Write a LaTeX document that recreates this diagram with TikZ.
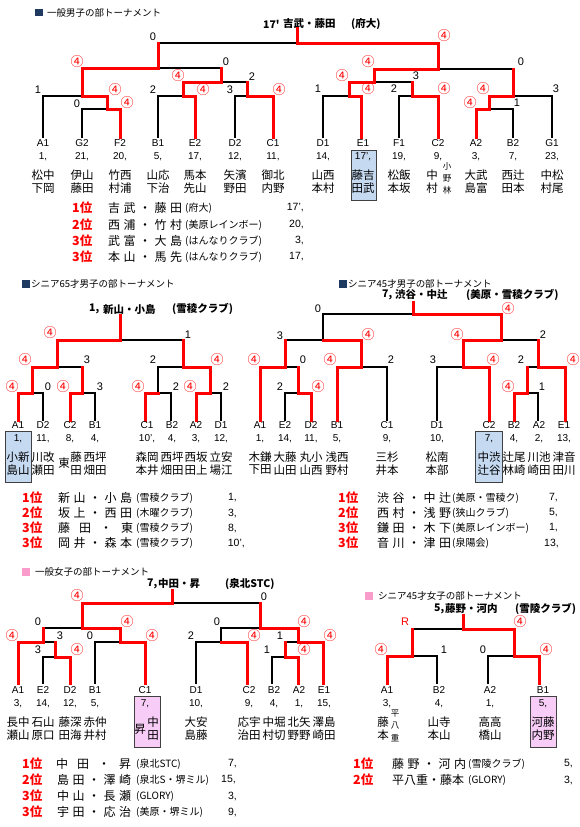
\documentclass[tikz,border=0pt]{standalone}
\usepackage{fontspec}
\setmainfont{Liberation Sans}
\newfontfamily\jp{Noto Sans CJK JP}
\definecolor{hlb}{HTML}{C5D9F1}
\definecolor{hlp}{HTML}{F7CDF7}
\definecolor{navy}{HTML}{1F3A60}
\definecolor{pnk}{HTML}{F99CCB}
\newcommand\hs{\hspace{3.5pt}}
\newcommand\hw{\hspace{9pt}}
\newcounter{nd}
\newcommand\F[2]{\stepcounter{nd}\node[w4] (f\arabic{nd}) at (#1,#2) {④};}
\newcommand\Sc[3]{\stepcounter{nd}\node[sc] (s\arabic{nd}) at (#1,#2) {#3};}
% leaf: name, x, ylab, label, num, row1, row2
\newcommand\Lf[7]{%
  \node[lb] (#1l) at (#2,#3) {#4};
  \node[lb] (#1n) at (#2,#3+14) {#5};
  \node[nm] (#1a) at (#2,#3+32) {#6};
  \node[nm] (#1b) at (#2,#3+45) {#7};}
% rank row: name, y, xr, rank, xn, names, xo, org
\newcommand\Rk[8]{%
  \node[rk] (#1r) at (#3,#2) {#4};
  \node[rn] (#1n) at (#5,#2) {#6};
  \node[og] (#1o) at (#7,#2) {#8};}
\newcommand\Rv[4]{\node[rv] (#1v) at (#2,#3) {#4};}
\begin{document}
\begin{tikzpicture}[x=1pt,y=-1pt,
 rl/.style={draw=red,line width=3pt,line cap=rect},
 bl/.style={draw=black,line width=1.9pt,line cap=rect},
 w4/.style={text=red,font=\jp\fontsize{13}{13}\selectfont,inner sep=0pt},
 sc/.style={font=\fontsize{11}{11}\selectfont,inner sep=0pt},
 lb/.style={font=\fontsize{10}{10}\selectfont,inner sep=0pt},
 nm/.style={font=\jp\fontsize{11.5}{11.5}\selectfont,inner sep=0pt},
 sm/.style={font=\jp\fontsize{8.5}{8.5}\selectfont,inner sep=0pt},
 rk/.style={text=red,font=\jp\bfseries\fontsize{12.5}{12.5}\selectfont,anchor=west,inner sep=0pt},
 rn/.style={font=\jp\fontsize{12}{12}\selectfont,anchor=west,inner sep=0pt},
 og/.style={font=\jp\fontsize{10}{10}\selectfont,anchor=west,inner sep=0pt},
 rv/.style={font=\fontsize{10.5}{10.5}\selectfont,inner sep=0pt,anchor=east},
 hd/.style={font=\jp\fontsize{9.5}{9.5}\selectfont,anchor=west,inner sep=0pt},
 ch/.style={font=\jp\bfseries\fontsize{10.5}{10.5}\selectfont,anchor=west,inner sep=0pt},
 sq/.style={minimum size=7.5pt,inner sep=0pt},
 hbx/.style={fill=hlb,draw=black!75,line width=0.8pt},
 pbx/.style={fill=hlp,draw=black!75,line width=0.8pt},
]
\fill[white] (0,0) rectangle (580,827);
\useasboundingbox (0,0) rectangle (580,827);

%================ Section 1 =================
\node[sq,fill=navy] (h1s) at (39,12.5) {};
\node[hd] (h1) at (47,12.5) {一般男子の部トーナメント};
\node[ch] (c1a) at (263,24) {17'};
\node[ch] (c1b) at (283,24) {吉武・藤田};
\node[ch] (c1c) at (351,24) {(府大)};
% black
\draw[bl] (158,43)--(297,43);
\draw[bl] (158,68)--(221,68);
\draw[bl] (43,137)--(43,96)--(82,96);
\draw[bl] (82,137)--(82,109)--(107,109);
\draw[bl] (158,137)--(158,96)--(183,96);
\draw[bl] (221,82)--(247,82);
\draw[bl] (235,137)--(235,96)--(247,96);
\draw[bl] (438,69)--(513,69);
\draw[bl] (374,82)--(412,82);
\draw[bl] (323,137)--(323,96)--(349,96);
\draw[bl] (399,137)--(399,96)--(412,96);
\draw[bl] (513,96)--(552,96)--(552,137);
\draw[bl] (489,109)--(513,109)--(513,137);
% red
\draw[rl] (297,28)--(297,43)--(438,43)--(438,69)--(374,69)--(374,82)--(349,82)--(349,96)--(361,96)--(361,137);
\draw[rl] (158,43)--(158,68)--(82,68)--(82,96)--(107,96)--(107,109)--(120,109)--(120,137);
\draw[rl] (221,68)--(221,82)--(183,82)--(183,96)--(195,96)--(195,137);
\draw[rl] (247,82)--(247,96)--(273,96)--(273,137);
\draw[rl] (412,82)--(412,96)--(438,96)--(438,137);
\draw[rl] (513,69)--(513,96)--(489,96)--(489,109)--(476,109)--(476,137);
% scores
\Sc{153}{37}{0} \F{444}{36}
\Sc{226}{62}{0} \F{77}{62} \Sc{521}{62}{0} \F{368}{62}
\F{178}{76} \Sc{252}{77}{2} \F{342}{76} \Sc{416}{76}{3}
\Sc{38}{90}{1} \F{115}{90} \Sc{153}{90}{2} \F{203}{90} \Sc{230}{90}{3} \F{279}{90}
\Sc{318}{89}{1} \F{368}{89} \Sc{394}{89}{2} \F{444}{89} \F{483}{89} \Sc{556}{89}{3}
\Sc{77}{104}{0} \F{127}{103} \F{470}{103} \Sc{517}{103}{1}
% leaves
\draw[hbx] (351,150) rectangle (376,200);
\Lf{aA1}{43}{143}{A1}{1,}{松中}{下岡}
\Lf{aG2}{82}{143}{G2}{21,}{伊山}{藤田}
\Lf{aF2}{120}{143}{F2}{20,}{竹西}{村浦}
\Lf{aB1}{158}{143}{B1}{5,}{山応}{下治}
\Lf{aE2}{195}{143}{E2}{17,}{馬本}{先山}
\Lf{aD2}{235}{143}{D2}{12,}{矢濱}{野田}
\Lf{aC1}{273}{143}{C1}{11,}{御北}{内野}
\Lf{aD1}{323}{143}{D1}{14,}{山西}{本村}
\Lf{aE1}{363}{143}{E1}{17',}{藤吉}{田武}
\Lf{aF1}{399}{143}{F1}{19,}{松飯}{本坂}
\Lf{aC2}{438}{143}{C2}{9,}{}{}
\node[nm] (aC2x) at (432,175) {中};
\node[nm] (aC2y) at (432,188) {村};
\node[sm] (aC2p) at (447,166) {小};
\node[sm] (aC2q) at (447,178) {野};
\node[sm] (aC2r) at (447,190) {林};
\Lf{aA2}{476}{143}{A2}{3,}{大武}{島富}
\Lf{aB2}{513}{143}{B2}{7,}{西辻}{田本}
\Lf{aG1}{552}{143}{G1}{23,}{中松}{村尾}
% ranks
\Rk{a1}{208}{72}{1位}{108}{吉\hs 武\hs・\hs 藤\hs 田}{185}{(府大)} \Rv{a1}{304}{208}{17',}
\Rk{a2}{225}{72}{2位}{108}{西\hs 浦\hs・\hs 竹\hs 村}{185}{(美原レインボー)} \Rv{a2}{304}{225}{20,}
\Rk{a3}{241}{72}{3位}{108}{武\hs 富\hs・\hs 大\hs 島}{185}{(はんなりクラブ)} \Rv{a3}{304}{241}{3,}
\Rk{a4}{257}{72}{3位}{108}{本\hs 山\hs・\hs 馬\hs 先}{185}{(はんなりクラブ)} \Rv{a4}{304}{257}{17,}

%================ Section 2 =================
\node[sq,fill=navy] (h2s) at (26,284) {};
\node[hd] (h2) at (31,284) {シニア65才男子の部トーナメント};
\node[ch] (c2a) at (89,309) {1,};
\node[ch] (c2b) at (103,309) {新山・小島};
\node[ch] (c2c) at (172,309) {(雪稜クラブ)};
\draw[bl] (120,340)--(183,340);
\draw[bl] (57,367)--(82,367);
\draw[bl] (43,420)--(43,393)--(32,393);
\draw[bl] (95,420)--(95,393)--(82,393);
\draw[bl] (158,393)--(158,367)--(183,367);
\draw[bl] (171,420)--(171,393)--(158,393);
\draw[bl] (221,420)--(221,393)--(210,393);
\draw[rl] (120,315)--(120,340)--(57,340)--(57,367)--(32,367)--(32,393)--(18,393)--(18,420);
\draw[rl] (183,340)--(183,367)--(210,367)--(210,393)--(196,393)--(196,420);
\draw[rl] (82,367)--(82,393)--(70,393)--(70,420);
\draw[rl] (158,393)--(145,393)--(145,420);
\F{50}{333} \Sc{188}{335}{1}
\F{25}{360} \Sc{87}{360}{3} \Sc{153}{360}{2} \F{217}{360}
\F{12}{387} \Sc{48}{387}{0} \F{63}{387} \Sc{100}{387}{3}
\F{138}{387} \Sc{176}{387}{2} \F{190}{387} \Sc{226}{387}{2}
\draw[hbx] (5,431) rectangle (31,482);
\Lf{bA1}{18}{425}{A1}{1,}{小新}{島山}
\Lf{bD2}{43}{425}{D2}{11,}{川改}{瀬田}
\Lf{bC2}{70}{425}{C2}{8,}{}{}
\node[nm] (bC2x) at (64,463) {東};
\node[nm] (bC2y) at (76,457) {藤};
\node[nm] (bC2z) at (76,470) {田};
\Lf{bB1}{95}{425}{B1}{4,}{西坪}{畑田}
\Lf{bC1}{147}{425}{C1}{10',}{森岡}{本井}
\Lf{bB2}{172}{425}{B2}{4,}{西坪}{畑田}
\Lf{bA2}{196}{425}{A2}{3,}{西坂}{田上}
\Lf{bD1}{221}{425}{D1}{12,}{立安}{場江}
\Rk{b1}{498}{22}{1位}{58}{新\hs 山\hs・\hs 小\hs 島}{136}{(雪稜クラブ)} \Rv{b1}{237}{498}{1,}
\Rk{b2}{513}{22}{2位}{58}{坂\hs 上\hs・\hs 西\hs 田}{136}{(木曜クラブ)} \Rv{b2}{237}{513}{3,}
\Rk{b3}{528}{22}{3位}{58}{藤\hw 田\hw・\hw 東}{136}{(雪稜クラブ)} \Rv{b3}{237}{528}{8,}
\Rk{b4}{543}{22}{3位}{58}{岡\hs 井\hs・\hs 森\hs 本}{136}{(雪稜クラブ)} \Rv{b4}{245}{543}{10',}

%================ Section 3 =================
\node[sq,fill=navy] (h3s) at (343,284) {};
\node[hd] (h3) at (348,284) {シニア45才男子の部トーナメント};
\node[ch] (c3a) at (382,295) {7,};
\node[ch] (c3b) at (395,295) {渋谷・中辻};
\node[ch] (c3c) at (466,295) {(美原・雪稜クラブ)};
\draw[bl] (323,314)--(413,314);
\draw[bl] (323,314)--(323,340)--(285,340);
\draw[bl] (285,367)--(298,367);
\draw[bl] (285,420)--(285,393)--(298,393);
\draw[bl] (361,367)--(387,367)--(387,420);
\draw[bl] (501,340)--(538,340);
\draw[bl] (437,420)--(437,367)--(463,367);
\draw[bl] (527,367)--(538,367);
\draw[bl] (527,393)--(538,393)--(538,420);
\draw[rl] (413,302)--(413,314)--(501,314)--(501,340)--(463,340)--(463,367)--(489,367)--(489,420);
\draw[rl] (323,340)--(361,340)--(361,367)--(337,367)--(337,420);
\draw[rl] (285,340)--(285,367)--(260,367)--(260,420);
\draw[rl] (298,367)--(298,393)--(311,393)--(311,420);
\draw[rl] (538,340)--(538,367)--(565,367)--(565,420);
\draw[rl] (527,367)--(527,393)--(514,393)--(514,420);
\Sc{318}{309}{0} \F{508}{309}
\Sc{280}{336}{3} \F{368}{335} \F{457}{335} \Sc{543}{335}{2}
\F{254}{360} \Sc{303}{360}{0} \F{330}{360} \Sc{391}{360}{2}
\Sc{433}{360}{3} \F{493}{360} \Sc{521}{360}{2} \F{573}{360}
\Sc{280}{387}{2} \F{318}{387} \F{508}{387} \Sc{542}{387}{1}
\draw[hbx] (475,431) rectangle (502,482);
\Lf{cA1}{260}{425}{A1}{1,}{木鎌}{下田}
\Lf{cE2}{285}{425}{E2}{14,}{大藤}{山田}
\Lf{cD2}{311}{425}{D2}{11,}{丸小}{山西}
\Lf{cB1}{337}{425}{B1}{5,}{浅西}{野村}
\Lf{cC1}{387}{425}{C1}{9,}{三杉}{井本}
\Lf{cD1}{437}{425}{D1}{10,}{松南}{本部}
\Lf{cC2}{489}{425}{C2}{7,}{中渋}{辻谷}
\Lf{cB2}{514}{425}{B2}{4,}{辻尾}{林崎}
\Lf{cA2}{539}{425}{A2}{2,}{川池}{崎田}
\Lf{cE1}{564}{425}{E1}{13,}{津音}{田川}
\Rk{c1}{498}{338}{1位}{377}{渋\hs 谷\hs・\hs 中\hs 辻}{452}{(美原・雪稜ク)} \Rv{c1}{558}{498}{7,}
\Rk{c2}{513}{338}{2位}{377}{西\hs 村\hs・\hs 浅\hs 野}{452}{(狭山クラブ)} \Rv{c2}{558}{513}{5,}
\Rk{c3}{528}{338}{3位}{377}{鎌\hs 田\hs・\hs 木\hs 下}{452}{(美原レインボー)} \Rv{c3}{558}{528}{1,}
\Rk{c4}{543}{338}{3位}{377}{音\hs 川\hs・\hs 津\hs 田}{452}{(泉陽会)} \Rv{c4}{559}{543}{13,}

%================ Section 4 =================
\node[sq,fill=pnk] (h4s) at (26,572) {};
\node[hd] (h4) at (35,572) {一般女子の部トーナメント};
\node[ch] (c4a) at (147,584) {7,};
\node[ch] (c4b) at (158,584) {中田・昇};
\node[ch] (c4c) at (225,584) {(泉北STC)};
\draw[bl] (172,603)--(260,603);
\draw[bl] (43,628)--(82,628);
\draw[bl] (43,642)--(55,642);
\draw[bl] (43,683)--(43,657)--(55,657);
\draw[bl] (95,683)--(95,642)--(120,642);
\draw[bl] (221,628)--(260,628);
\draw[bl] (221,628)--(221,642)--(196,642)--(196,683);
\draw[bl] (285,642)--(298,642);
\draw[bl] (272,683)--(272,657)--(285,657);
\draw[rl] (172,590)--(172,603)--(82,603)--(82,628)--(120,628)--(120,642)--(145,642)--(145,683);
\draw[rl] (43,628)--(43,642)--(18,642)--(18,683);
\draw[rl] (55,642)--(55,657)--(70,657)--(70,683);
\draw[rl] (260,603)--(260,628)--(298,628)--(298,642)--(323,642)--(323,683);
\draw[rl] (221,642)--(247,642)--(247,683);
\draw[rl] (285,642)--(285,657)--(298,657)--(298,683);
\F{77}{596} \Sc{264}{597}{0}
\Sc{38}{622}{0} \F{127}{622} \Sc{217}{622}{0} \F{304}{622}
\F{12}{636} \Sc{60}{636}{3} \Sc{90}{636}{0} \F{152}{636}
\Sc{191}{636}{2} \F{254}{636} \Sc{280}{636}{1} \F{330}{636}
\Sc{38}{650}{3} \F{77}{650} \Sc{267}{650}{1} \F{304}{650}
\draw[pbx] (134,696) rectangle (160,747);
\Lf{dA1}{18}{690}{A1}{3,}{長中}{瀬山}
\Lf{dE2}{43}{690}{E2}{14,}{石山}{原口}
\Lf{dD2}{70}{690}{D2}{12,}{藤深}{田海}
\Lf{dB1}{95}{690}{B1}{5,}{赤仲}{井村}
\Lf{dC1}{145}{690}{C1}{7,}{}{}
\node[nm] (dC1x) at (153,722) {中};
\node[nm] (dC1y) at (153,735) {田};
\node[nm] (dC1z) at (140,729) {昇};
\Lf{dD1}{196}{690}{D1}{10,}{大安}{島藤}
\Lf{dC2}{249}{690}{C2}{9,}{応宇}{治田}
\Lf{dB2}{274}{690}{B2}{4,}{中堀}{村切}
\Lf{dA2}{299}{690}{A2}{1,}{北矢}{野野}
\Lf{dE1}{324}{690}{E1}{15,}{澤島}{崎田}
\Rk{d1}{764}{22}{1位}{56}{中\hw 田\hw・\hw 昇}{136}{(泉北STC)} \Rv{d1}{237}{764}{7,}
\Rk{d2}{780}{22}{2位}{57}{島\hs 田\hs・\hs 澤\hs 崎}{136}{(泉北S・堺ミル)} \Rv{d2}{236}{780}{15,}
\Rk{d3}{796}{22}{3位}{57}{中\hs 山\hs・\hs 長\hs 瀬}{136}{(GLORY)} \Rv{d3}{237}{796}{3,}
\Rk{d4}{812}{22}{3位}{57}{宇\hs 田\hs・\hs 応\hs 治}{136}{(美原・堺ミル)} \Rv{d4}{237}{812}{9,}

%================ Section 5 =================
\node[sq,fill=pnk] (h5s) at (369,596) {};
\node[hd] (h5) at (378,596) {シニア45才女子の部トーナメント};
\node[ch] (c5a) at (434,609) {5,};
\node[ch] (c5b) at (445,609) {藤野・河内};
\node[ch] (c5c) at (515,609) {(雪陵クラブ)};
\draw[bl] (412,629)--(463,629);
\draw[bl] (412,656)--(437,656)--(437,683);
\draw[bl] (488,683)--(488,656)--(514,656);
\draw[rl] (463,615)--(463,629)--(514,629)--(514,656)--(539,656)--(539,683);
\draw[rl] (412,629)--(412,656)--(387,656)--(387,683);
\node[sc,text=red] (r5) at (405,622) {R}; \F{520}{622}
\F{381}{650} \Sc{444}{650}{1} \Sc{483}{650}{0} \F{546}{650}
\draw[pbx] (530,696) rectangle (556,747);
\Lf{eA1}{387}{690}{A1}{3,}{}{}
\node[nm] (eA1x) at (383,722) {藤};
\node[nm] (eA1y) at (383,735) {本};
\node[sm] (eA1p) at (395,714) {平};
\node[sm] (eA1q) at (395,726) {八};
\node[sm] (eA1r) at (395,738) {重};
\Lf{eB2}{439}{690}{B2}{4,}{山寺}{本山}
\Lf{eA2}{490}{690}{A2}{1,}{高高}{橋山}
\Lf{eB1}{543}{690}{B1}{5,}{河藤}{内野}
\Rk{e1}{764}{353}{1位}{392}{藤\hs 野\hs・\hs 河\hs 内}{468}{(雪陵クラブ)} \Rv{e1}{573}{764}{5,}
\Rk{e2}{780}{353}{2位}{392}{平八重・藤本}{468}{(GLORY)} \Rv{e2}{573}{780}{3,}
\end{tikzpicture}
\end{document}
